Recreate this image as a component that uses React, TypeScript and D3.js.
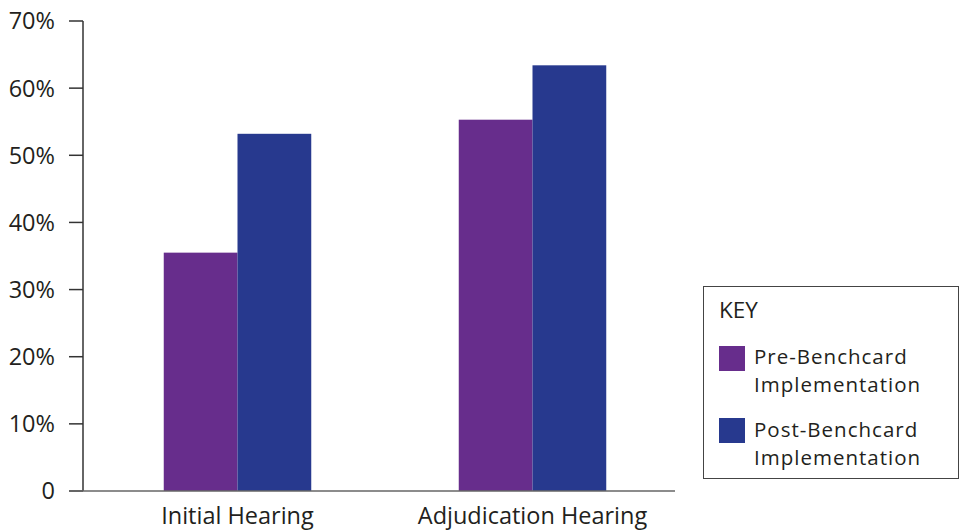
import React from "react";
import * as d3 from "d3";

const categories = ["Initial Hearing", "Adjudication Hearing"];
const seriesNames = ["Pre-Benchcard Implementation", "Post-Benchcard Implementation"];
const legendLines = [["Pre-Benchcard", "Implementation"], ["Post-Benchcard", "Implementation"]];
const preValues = [35.5, 55.3];
const postValues = [53.2, 63.4];
const yTicks = [0, 10, 20, 30, 40, 50, 60, 70];
const colors = ["#672d8c", "#27398e"];

const W = 964;
const H = 531;
const FONT = "'Open Sans', sans-serif";

export default function App() {
  const y = d3.scaleLinear().domain([0, 70]).range([491, 21]);
  const x0 = d3.scaleBand().domain(categories).range([90, 680]).paddingInner(0.5).paddingOuter(0.25);
  const x1 = d3.scaleBand().domain(seriesNames).range([0, x0.bandwidth()]);
  const series = [preValues, postValues];
  const fs = 23.5;
  const lfs = 20.5;

  return (
    <div style={{ position: "fixed", left: 0, top: 0, width: W, height: H }}>
      <svg width={W} height={H} style={{ display: "block", background: "#fff" }}>
        {categories.map((c, ci) =>
          seriesNames.map((s, si) => (
            <rect
              key={c + s}
              x={(x0(c) as number) + (x1(s) as number)}
              y={y(series[si][ci])}
              width={x1.bandwidth()}
              height={y(0) - y(series[si][ci])}
              fill={colors[si]}
            />
          ))
        )}
        {/* y axis */}
        <line x1={83} x2={83} y1={y(70)} y2={y(0)} stroke="#333" strokeWidth={1.5} />
        {yTicks.map((t) => (
          <g key={t}>
            <line x1={69} x2={83} y1={y(t)} y2={y(t)} stroke="#333" strokeWidth={1.5} />
            <text x={55} y={y(t)} dy="0.36em" textAnchor="end" fontFamily={FONT} fontSize={fs} fill="#231f20">
              {t === 0 ? "0" : `${t}%`}
            </text>
          </g>
        ))}
        {/* baseline */}
        <line x1={70} x2={675} y1={y(0)} y2={y(0)} stroke="#666" strokeWidth={1.5} />
        {categories.map((c) => (
          <text
            key={c}
            x={(x0(c) as number) + x0.bandwidth() / 2}
            y={524}
            textAnchor="middle"
            fontFamily={FONT}
            fontSize={fs}
            fill="#231f20"
          >
            {c}
          </text>
        ))}
        {/* legend */}
        <rect x={703.5} y={286.5} width={255} height={192} fill="#fff" stroke="#444" strokeWidth={1} />
        <text x={719} y={318} fontFamily={FONT} fontSize={fs - 1} fill="#231f20">KEY</text>
        {seriesNames.map((s, i) => (
          <g key={s}>
            <rect x={719} y={346 + i * 72} width={26} height={25} fill={colors[i]} />
            <text x={754} y={364 + i * 73} fontFamily={FONT} fontSize={lfs} letterSpacing={1} fill="#231f20">{legendLines[i][0]}</text>
            <text x={754} y={392 + i * 73} fontFamily={FONT} fontSize={lfs} letterSpacing={1} fill="#231f20">{legendLines[i][1]}</text>
          </g>
        ))}
      </svg>
    </div>
  );
}
